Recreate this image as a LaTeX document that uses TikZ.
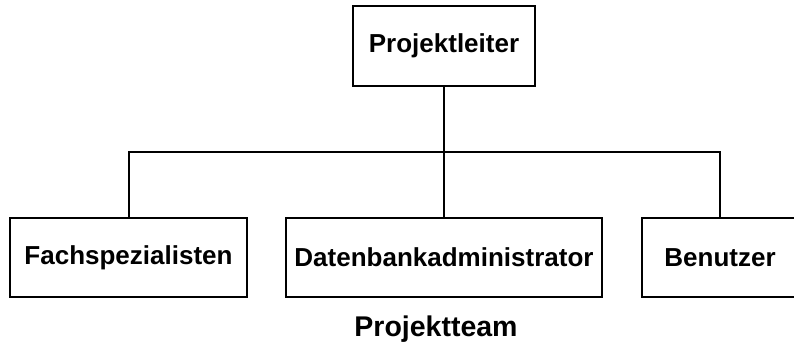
\documentclass[tikz,border=0pt]{standalone}
\usepackage{fontspec}
\setmainfont{Liberation Sans}
\begin{document}
\begin{tikzpicture}[x=1pt,y=-1pt,
  box/.style={draw, line width=2pt, inner sep=0pt, outer sep=0pt,
    minimum height=79pt, font=\bfseries\fontsize{26}{30}\selectfont},
  link/.style={line width=2pt},
  caption/.style={font=\bfseries\fontsize{28.5}{32}\selectfont, inner sep=0pt}]
  \useasboundingbox (0,0) rectangle (794,346);
  % team lead
  \node[box, minimum width=182pt, minimum height=80pt] (pl) at (444,46) {Projektleiter};
  % team members
  \node[box, minimum width=237pt] (fach) at (128.5,257.5) {Fachspezialisten};
  \node[box, minimum width=316pt] (db) at (444,257.5) {Datenbankadministrator};
  \node[box, minimum width=156pt] (ben) at (720,257.5) {Benutzer};
  \node[caption] (team) at (436,329) {Projektteam};
  % connecting lines
  \coordinate (bus) at (444,152);
  \draw[link] (pl.south) -- (pl.south |- bus);
  \draw[link] (fach.north) -- (fach.north |- bus) -- (ben.north |- bus) -- (ben.north);
  \draw[link] (bus) -- (db.north);
\end{tikzpicture}
\end{document}
